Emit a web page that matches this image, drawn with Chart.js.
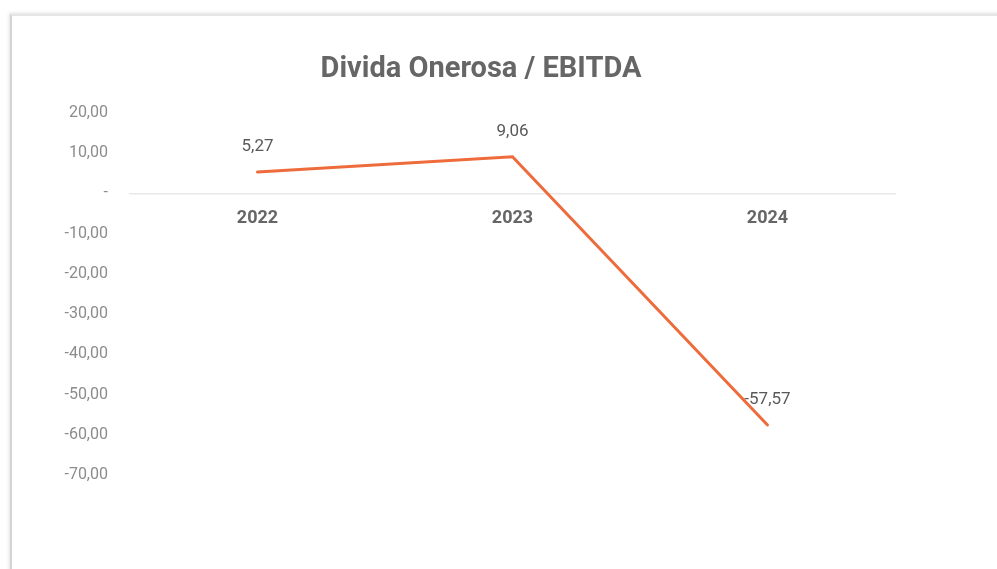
<!DOCTYPE html>
<html>
<head>
<meta charset="utf-8">
<script src="https://cdn.jsdelivr.net/npm/chart.js@4.4.1/dist/chart.umd.min.js"></script>
<style>
  html, body { margin: 0; padding: 0; background: #ffffff; width: 997px; height: 569px; overflow: hidden; }
  #card {
    position: absolute; left: 10px; top: 14px; width: 990px; height: 560px;
    background: #ffffff;
    border-left: 2px solid #d4d4d4; border-top: 2px solid #e6e6e6;
    box-shadow: -1px -1px 3px rgba(0,0,0,0.12);
  }
  #wrap { position: absolute; left: 10px; top: 14px; width: 942px; height: 555px; }
</style>
</head>
<body>
<div id="card"></div>
<div id="wrap"><canvas id="c"></canvas></div>
<script>
const categories = ['2022', '2023', '2024'];
const ratioValues = [5.27, 9.06, -57.57];
const yTickMin = -70;
const yTickMax = 20;
const yTickStep = 10;
const chartTitle = 'Divida Onerosa / EBITDA';

function fmt(v) {
  if (Math.abs(v) < 1e-9) return '-';
  return v.toFixed(2).replace('.', ',');
}

const valueLabels = {
  id: 'valueLabels',
  beforeDatasetsDraw(chart) {
    const ctx = chart.ctx;
    const meta = chart.getDatasetMeta(0);
    const data = chart.data.datasets[0].data;
    ctx.save();
    ctx.font = '17px Roboto';
    ctx.fillStyle = '#595959';
    ctx.textAlign = 'center';
    ctx.textBaseline = 'middle';
    meta.data.forEach((pt, i) => {
      ctx.fillText(fmt(data[i]), pt.x, pt.y - 25);
    });
    ctx.restore();
  }
};

new Chart(document.getElementById('c'), {
  type: 'line',
  data: {
    labels: categories,
    datasets: [{
      data: ratioValues,
      borderColor: '#EE6B3B',
      borderWidth: 3,
      pointRadius: 0,
      pointHoverRadius: 0,
      tension: 0,
      borderCapStyle: 'round',
      borderJoinStyle: 'miter'
    }]
  },
  options: {
    responsive: true,
    maintainAspectRatio: false,
    animation: false,
    events: [],
    layout: { padding: { top: 0, right: 0, bottom: 94, left: 0 } },
    plugins: {
      legend: { display: false },
      tooltip: { enabled: false },
      title: {
        display: true,
        text: chartTitle,
        color: '#666666',
        font: { family: 'Roboto', size: 29, weight: 'bold' },
        padding: { top: 38, bottom: 26 }
      }
    },
    scales: {
      x: {
        type: 'category',
        position: { y: 0 },
        offset: true,
        grid: { display: true, color: 'transparent', drawTicks: false },
        border: { display: true, color: '#e8e8e8', width: 1.5 },
        ticks: {
          color: '#666666',
          font: { family: 'Roboto', size: 18, weight: 'bold' },
          padding: 14,
          maxRotation: 0
        }
      },
      y: {
        min: yTickMin,
        max: yTickMax,
        afterFit(scale) { scale.width = 120; },
        grid: { display: false, drawTicks: false },
        border: { display: false },
        ticks: {
          stepSize: yTickStep,
          color: '#8c8c8c',
          font: { family: 'Roboto', size: 16 },
          padding: 22,
          callback: (v) => fmt(v)
        }
      },
      yRight: {
        position: 'right',
        min: yTickMin,
        max: yTickMax,
        afterFit(scale) { scale.width = 57; },
        grid: { display: false, drawTicks: false },
        border: { display: false },
        ticks: { display: false }
      }
    }
  },
  plugins: [valueLabels]
});
</script>
</body>
</html>
